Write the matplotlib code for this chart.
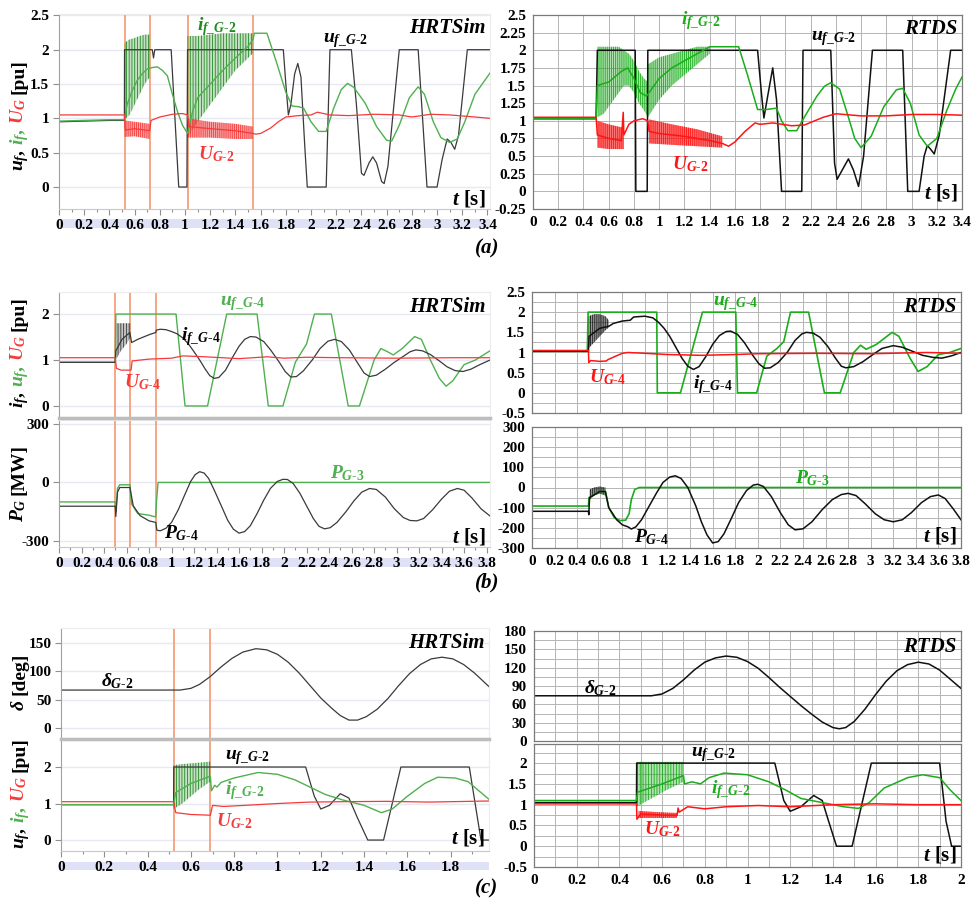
import matplotlib
matplotlib.use('Agg')
import matplotlib.pyplot as plt
from matplotlib.patches import Rectangle
from matplotlib.lines import Line2D
from matplotlib.ticker import MultipleLocator, FuncFormatter
from matplotlib.colors import to_rgba

# ---------------- data ----------------
# (a) HRTSim
a_h_uf_t = [0, 0.2, 0.4, 0.519, 0.52, 0.74, 0.75, 0.76, 0.89, 0.95, 1.005, 1.015, 1.02, 1.78, 1.80, 1.82, 1.84, 1.87, 1.895, 1.92, 1.95, 1.97,
            2.12, 2.15, 2.32, 2.36, 2.40, 2.42, 2.46, 2.49, 2.52, 2.56, 2.58, 2.61, 2.70, 2.85, 2.92, 3.0, 3.04, 3.08, 3.11, 3.14, 3.17, 3.24, 3.42]
a_h_uf = [0.95, 0.96, 0.97, 0.97, 2.0, 2.0, 1.88, 2.0, 2.0, 0.0, 0.0, 0.0, 2.0, 2.0, 1.5, 1.05, 1.2, 1.65, 1.8, 1.6, 0.6, 0.0,
          0.0, 2.0, 2.0, 1.2, 0.2, 0.17, 0.35, 0.44, 0.35, 0.08, 0.05, 0.3, 2.0, 2.0, 0.0, 0.0, 0.4, 0.7, 0.65, 0.55, 0.75, 2.0, 2.0]
a_h_if_t = [0, 0.2, 0.4, 0.52, 0.54, 0.58, 0.62, 0.66, 0.70, 0.74, 0.78, 0.82, 0.86, 0.9, 0.94, 0.98, 1.02, 1.06, 1.1, 1.2, 1.3, 1.4, 1.5,
            1.54, 1.55, 1.65, 1.72, 1.8, 1.85, 1.9, 1.94, 2.0, 2.06, 2.12, 2.18, 2.24, 2.29, 2.34, 2.43, 2.52, 2.6, 2.64, 2.7, 2.78, 2.85,
            2.9, 2.97, 3.03, 3.1, 3.16, 3.22, 3.3, 3.42]
a_h_if = [0.96, 0.97, 0.98, 0.98, 1.2, 1.4, 1.55, 1.65, 1.72, 1.74, 1.75, 1.7, 1.62, 1.35, 1.1, 0.9, 0.78, 1.1, 1.3, 1.5, 1.7, 1.88, 2.05,
          2.15, 2.24, 2.24, 1.85, 1.38, 1.18, 1.17, 1.15, 0.95, 0.81, 0.81, 1.15, 1.42, 1.51, 1.45, 1.22, 0.88, 0.68, 0.67, 0.9, 1.3, 1.46,
          1.35, 0.95, 0.72, 0.65, 0.7, 0.95, 1.35, 1.66]
a_h_if_band1 = ([0.52, 0.56, 0.6, 0.64, 0.68, 0.72], [0.98, 1.05, 1.2, 1.35, 1.5, 1.6], [2.1, 2.15, 2.17, 2.2, 2.22, 2.22])
a_h_if_band2 = ([1.02, 1.1, 1.2, 1.3, 1.4, 1.54], [0.72, 0.95, 1.2, 1.45, 1.7, 1.95], [2.2, 2.2, 2.22, 2.24, 2.24, 2.24])
a_h_ug_t = [0, 0.52, 0.525, 0.6, 0.72, 0.73, 0.8, 0.9, 0.98, 1.02, 1.03, 1.2, 1.4, 1.54, 1.56, 1.6, 1.68, 1.74, 1.8, 1.9, 2.0, 2.05,
            2.15, 2.3, 2.5, 2.7, 2.8, 2.95, 3.1, 3.3, 3.42]
a_h_ug = [1.05, 1.05, 0.83, 0.85, 0.82, 0.97, 1.02, 1.06, 1.07, 1.05, 0.88, 0.85, 0.82, 0.78, 0.77, 0.78, 0.86, 0.95, 1.02, 1.04, 1.05, 1.09,
          1.05, 1.04, 1.06, 1.05, 1.02, 1.06, 1.05, 1.02, 1.0]
a_h_ug_band1 = ([0.52, 0.6, 0.72], [0.73, 0.74, 0.70], [0.97, 0.95, 0.92])
a_h_ug_band2 = ([1.02, 1.2, 1.4, 1.54], [0.72, 0.72, 0.70, 0.70], [1.0, 0.95, 0.92, 0.88])
a_h_events = [0.52, 0.72, 1.02, 1.54]

# (a) RTDS
a_r_uf_t = [0, 0.5, 0.51, 0.81, 0.815, 0.905, 0.91, 1.78, 1.81, 1.83, 1.86, 1.9, 1.93, 1.97, 2.13, 2.14, 2.36, 2.39, 2.41, 2.45, 2.5,
            2.54, 2.58, 2.62, 2.69, 2.93, 2.97, 3.06, 3.1, 3.125, 3.15, 3.18, 3.22, 3.31, 3.4]
a_r_uf = [1.03, 1.03, 2.0, 2.0, 0.0, 0.0, 2.0, 2.0, 1.4, 1.04, 1.35, 1.75, 1.3, 0.0, 0.0, 2.0, 2.0, 0.4, 0.17, 0.3, 0.46,
          0.3, 0.07, 0.5, 2.0, 2.0, 0.0, 0.0, 0.5, 0.65, 0.6, 0.53, 0.8, 2.0, 2.0]
a_r_if_t = [0, 0.5, 0.51, 0.6, 0.7, 0.75, 0.8, 0.85, 0.9, 0.92, 1.0, 1.1, 1.2, 1.3, 1.4, 1.63, 1.7, 1.78, 1.85, 1.93, 1.97, 2.02, 2.09,
            2.15, 2.25, 2.31, 2.36, 2.43, 2.5, 2.55, 2.6, 2.68, 2.78, 2.88, 2.93, 2.99, 3.06, 3.125, 3.2, 3.28, 3.35, 3.4]
a_r_if = [1.03, 1.03, 1.5, 1.55, 1.7, 1.75, 1.6, 1.4, 1.35, 1.4, 1.6, 1.75, 1.85, 1.95, 2.05, 2.05, 1.65, 1.16, 1.16, 1.18, 1.0, 0.86, 0.86,
          1.05, 1.35, 1.49, 1.54, 1.45, 1.05, 0.75, 0.62, 0.78, 1.2, 1.44, 1.46, 1.25, 0.8, 0.64, 0.75, 1.15, 1.45, 1.62]
a_r_if_band1 = ([0.51, 0.56, 0.62, 0.68, 0.72, 0.76, 0.8, 0.84, 0.88, 0.91],
                [1.05, 1.1, 1.25, 1.4, 1.5, 1.5, 1.4, 1.25, 1.15, 1.05],
                [2.05, 2.05, 2.05, 2.05, 2.0, 1.95, 1.85, 1.7, 1.6, 1.55])
a_r_if_band2 = ([0.91, 1.0, 1.1, 1.2, 1.3, 1.4], [1.05, 1.3, 1.5, 1.65, 1.8, 1.95], [1.8, 1.9, 1.95, 2.0, 2.05, 2.05])
a_r_ug_t = [0, 0.5, 0.51, 0.6, 0.7, 0.715, 0.72, 0.76, 0.8, 0.87, 0.91, 0.92, 1.0, 1.2, 1.4, 1.5, 1.55, 1.6, 1.68, 1.76, 1.8, 1.9,
            2.05, 2.15, 2.3, 2.4, 2.6, 2.8, 3.0, 3.2, 3.4]
a_r_ug = [1.05, 1.05, 0.8, 0.75, 0.72, 1.12, 0.8, 0.95, 1.0, 1.03, 1.0, 0.85, 0.82, 0.78, 0.72, 0.68, 0.64, 0.7, 0.85, 0.97, 0.95, 0.97,
          0.93, 0.94, 1.05, 1.1, 1.07, 1.07, 1.09, 1.09, 1.08]
a_r_ug_band1 = ([0.51, 0.6, 0.72], [0.62, 0.6, 0.6], [1.0, 0.95, 0.9])
a_r_ug_band2 = ([0.92, 1.1, 1.3, 1.5], [0.68, 0.66, 0.64, 0.62], [1.02, 0.95, 0.88, 0.78])

# (b) HRTSim
b_h_uf_t = [0, 0.5, 0.505, 1.04, 1.12, 1.32, 1.49, 1.76, 1.86, 1.99, 2.1, 2.2, 2.27, 2.42, 2.57, 2.67, 2.8, 2.86, 2.92, 2.97, 3.05,
            3.16, 3.22, 3.3, 3.38, 3.44, 3.5, 3.6, 3.7, 3.83]
b_h_uf = [0.95, 0.95, 2.0, 2.0, 0.0, 0.0, 2.0, 2.0, 0.0, 0.0, 0.95, 1.35, 2.0, 2.0, 0.0, 0.0, 1.0, 1.25, 1.18, 1.11, 1.25,
          1.51, 1.45, 1.0, 0.6, 0.43, 0.55, 0.9, 1.0, 1.2]
b_h_if_t = [0, 0.5, 0.505, 0.56, 0.63, 0.645, 0.7, 0.8, 0.86, 0.865, 0.9, 0.95, 1.0, 1.05, 1.1, 1.15, 1.2, 1.25, 1.3, 1.34, 1.38,
            1.42, 1.48, 1.54, 1.6, 1.65, 1.7, 1.75, 1.82, 1.88, 1.95, 2.01, 2.06, 2.11, 2.17, 2.25, 2.32, 2.39, 2.45, 2.51, 2.58,
            2.65, 2.71, 2.76, 2.82, 2.9, 2.98, 3.06, 3.12, 3.17, 3.23, 3.3, 3.38, 3.45, 3.52, 3.59, 3.66, 3.74, 3.83]
b_h_if = [0.95, 0.95, 1.2, 1.45, 1.6, 1.38, 1.45, 1.55, 1.6, 1.65, 1.67, 1.66, 1.62, 1.57, 1.48, 1.35, 1.18, 1.0, 0.8, 0.66, 0.6,
          0.62, 0.78, 1.05, 1.3, 1.45, 1.51, 1.5, 1.4, 1.22, 0.98, 0.75, 0.63, 0.64, 0.76, 1.0, 1.25, 1.41, 1.45, 1.4, 1.22,
          0.95, 0.72, 0.64, 0.67, 0.8, 0.95, 1.08, 1.18, 1.22, 1.2, 1.12, 0.98, 0.85, 0.77, 0.75, 0.8, 0.9, 1.0]
b_h_if_band = ([0.505, 0.55, 0.6, 0.635], [1.0, 1.2, 1.35, 1.5], [1.8, 1.8, 1.8, 1.8])
b_h_ug_t = [0, 0.5, 0.51, 0.55, 0.64, 0.65, 0.8, 1.0, 1.1, 1.3, 1.6, 1.85, 2.0, 2.2, 2.5, 3.0, 3.5, 3.83]
b_h_ug = [1.05, 1.05, 0.82, 0.78, 0.78, 0.98, 1.02, 1.04, 1.09, 1.07, 1.03, 1.07, 1.04, 1.06, 1.05, 1.04, 1.05, 1.05]
b_h_p3_t = [0, 0.5, 0.505, 0.52, 0.54, 0.63, 0.645, 0.7, 0.8, 0.86, 0.865, 0.88, 3.83]
b_h_p3 = [-100, -100, -150, -30, -12, -12, -110, -160, -168, -177, -110, 0, 0]
b_h_p4_t = [0, 0.5, 0.505, 0.52, 0.54, 0.63, 0.66, 0.72, 0.8, 0.86, 0.87, 0.9, 0.95, 1.0, 1.06, 1.12, 1.17, 1.21, 1.25, 1.29, 1.33,
            1.38, 1.45, 1.5, 1.55, 1.6, 1.65, 1.7, 1.76, 1.82, 1.88, 1.94, 1.99, 2.03, 2.08, 2.14, 2.2, 2.26, 2.31, 2.36, 2.41,
            2.47, 2.55, 2.62, 2.69, 2.76, 2.82, 2.9, 2.98, 3.06, 3.12, 3.18, 3.24, 3.32, 3.4, 3.47, 3.54, 3.6, 3.67, 3.75, 3.83]
b_h_p4 = [-122, -122, -175, -50, -26, -26, -120, -170, -197, -205, -245, -248, -235, -205, -140, -60, 5, 40, 55, 48, 20,
          -40, -130, -195, -240, -260, -252, -222, -160, -90, -30, 5, 16, 15, -5, -55, -120, -185, -225, -238, -232,
          -205, -150, -95, -50, -31, -36, -75, -135, -180, -195, -197, -185, -140, -85, -45, -31, -40, -80, -135, -172]
b_h_events = [0.5, 0.63, 0.86]

# (b) RTDS
b_r_uf_t = [0, 0.49, 0.497, 1.105, 1.11, 1.315, 1.51, 1.805, 1.82, 1.99, 2.08, 2.17, 2.23, 2.29, 2.45, 2.59, 2.73, 2.85, 2.91, 2.96,
            3.05, 3.19, 3.25, 3.35, 3.42, 3.5, 3.6, 3.7, 3.8]
b_r_uf = [1.03, 1.03, 2.0, 2.0, 0.0, 0.0, 2.0, 2.0, 0.0, 0.0, 0.91, 1.1, 1.27, 2.0, 2.0, 0.0, 0.0, 1.0, 1.18, 1.08,
          1.2, 1.5, 1.4, 0.85, 0.53, 0.65, 0.95, 1.0, 1.1]
b_r_if_t = [0, 0.5, 0.505, 0.6, 0.68, 0.72, 0.8, 0.87, 0.9, 1.0, 1.07, 1.12, 1.17, 1.22, 1.28, 1.33, 1.38, 1.43, 1.48, 1.54, 1.6,
            1.66, 1.72, 1.76, 1.82, 1.88, 1.95, 2.01, 2.06, 2.11, 2.18, 2.26, 2.33, 2.39, 2.43, 2.49, 2.55, 2.62, 2.69, 2.74,
            2.78, 2.85, 2.93, 3.02, 3.1, 3.2, 3.28, 3.37, 3.46, 3.55, 3.63, 3.72, 3.8]
b_r_if = [1.03, 1.03, 1.4, 1.6, 1.65, 1.72, 1.78, 1.8, 1.88, 1.9, 1.86, 1.75, 1.6, 1.4, 1.1, 0.85, 0.66, 0.58, 0.65, 0.9, 1.2,
          1.42, 1.52, 1.53, 1.45, 1.25, 0.95, 0.72, 0.61, 0.62, 0.75, 1.0, 1.3, 1.46, 1.5, 1.48, 1.38, 1.15, 0.85, 0.66,
          0.62, 0.65, 0.77, 0.95, 1.1, 1.17, 1.13, 1.03, 0.93, 0.88, 0.86, 0.92, 1.0]
b_r_if_band = ([0.5, 0.55, 0.6, 0.65, 0.68], [1.1, 1.25, 1.4, 1.55, 1.62], [1.9, 1.95, 1.95, 1.9, 1.8])
b_r_ug_t = [0, 0.5, 0.503, 0.52, 0.6, 0.66, 0.67, 0.75, 0.8, 0.85, 1.0, 1.2, 1.5, 1.8, 2.0, 2.5, 3.0, 3.5, 3.8]
b_r_ug = [1.05, 1.05, 0.75, 0.8, 0.78, 0.79, 0.82, 0.92, 0.98, 1.0, 0.98, 0.95, 0.93, 0.95, 0.97, 0.98, 0.97, 1.0, 0.98]
b_r_p3_t = [0, 0.5, 0.505, 0.6, 0.65, 0.68, 0.73, 0.78, 0.83, 0.86, 0.88, 0.91, 0.95, 3.8]
b_r_p3 = [-92, -92, -50, -20, -20, -100, -150, -164, -162, -130, -60, -10, 0, 0]
b_r_p4_t = [0, 0.5, 0.503, 0.51, 0.6, 0.65, 0.68, 0.75, 0.8, 0.85, 0.88, 0.92, 0.97, 1.03, 1.1, 1.16, 1.22, 1.27, 1.32, 1.38, 1.45,
            1.5, 1.55, 1.6, 1.65, 1.7, 1.76, 1.83, 1.9, 1.96, 2.0, 2.05, 2.12, 2.2, 2.27, 2.33, 2.4, 2.48, 2.57, 2.66, 2.74,
            2.8, 2.87, 2.95, 3.04, 3.12, 3.2, 3.28, 3.36, 3.45, 3.53, 3.6, 3.66, 3.73, 3.8]
b_r_p4 = [-118, -118, -135, -50, -20, -20, -100, -160, -185, -195, -206, -195, -160, -100, -30, 25, 52, 58, 45, 0, -90,
          -170, -235, -275, -268, -230, -160, -75, -15, 12, 16, 5, -45, -125, -185, -210, -205, -170, -110, -60, -35,
          -29, -40, -80, -130, -160, -170, -160, -125, -75, -45, -37, -55, -105, -160]
b_r_p4_band = ([0.51, 0.55, 0.6, 0.65], [-60, -40, -30, -40], [-10, 0, 5, 0])

# (c) HRTSim
c_h_d_t = [0, 0.55, 0.6, 0.64, 0.69, 0.74, 0.79, 0.84, 0.9, 0.95, 1.0, 1.05, 1.1, 1.15, 1.2, 1.25, 1.29, 1.33, 1.37, 1.41, 1.46,
           1.51, 1.56, 1.61, 1.66, 1.71, 1.76, 1.81, 1.86, 1.91, 1.98]
c_h_d = [67, 67, 70, 77, 91, 108, 123, 134, 140, 138, 130, 116, 97, 75, 53, 35, 22, 14, 14, 20, 33,
         52, 75, 96, 112, 122, 125, 122, 112, 97, 72]
c_h_uf_t = [0, 0.52, 0.521, 1.13, 1.17, 1.2, 1.24, 1.29, 1.33, 1.37, 1.417, 1.49, 1.57, 1.886, 1.94, 1.98]
c_h_uf = [0.97, 0.97, 2.0, 2.0, 1.2, 0.85, 0.95, 1.27, 1.15, 0.6, 0.0, 0.0, 2.0, 2.0, 0.0, 0.0]
c_h_if_t = [0, 0.52, 0.53, 0.6, 0.69, 0.695, 0.71, 0.72, 0.74, 0.8, 0.91, 1.0, 1.08, 1.15, 1.22, 1.3, 1.4, 1.48, 1.53, 1.6, 1.68, 1.74,
            1.82, 1.88, 1.94, 1.98]
c_h_if = [0.97, 0.97, 1.3, 1.55, 1.75, 1.35, 1.5, 1.45, 1.58, 1.7, 1.85, 1.8, 1.65, 1.45, 1.25, 1.1, 0.95, 0.75, 0.85, 1.2, 1.55, 1.72,
          1.7, 1.6, 1.3, 1.1]
c_h_if_band = ([0.52, 0.56, 0.6, 0.64, 0.69], [0.85, 1.0, 1.2, 1.4, 1.6], [2.05, 2.08, 2.1, 2.12, 2.15])
c_h_ug_t = [0, 0.52, 0.53, 0.6, 0.69, 0.7, 0.75, 0.85, 1.0, 1.15, 1.3, 1.5, 1.7, 1.98]
c_h_ug = [1.05, 1.05, 0.75, 0.7, 0.68, 0.95, 0.92, 0.95, 1.0, 1.04, 1.05, 1.06, 1.04, 1.07]
c_h_events = [0.52, 0.69]

# (c) RTDS
c_r_d_t = [0, 0.55, 0.6, 0.65, 0.7, 0.75, 0.8, 0.85, 0.9, 0.95, 1.0, 1.05, 1.1, 1.15, 1.2, 1.25, 1.3, 1.35, 1.4, 1.43, 1.46, 1.5,
           1.55, 1.6, 1.65, 1.7, 1.75, 1.8, 1.85, 1.9, 1.95, 2.0]
c_r_d = [74, 74, 77, 86, 100, 116, 129, 136, 139, 137, 130, 119, 104, 88, 73, 58, 44, 31, 22, 20, 22, 32,
         52, 76, 98, 115, 125, 129, 126, 116, 101, 86]
c_r_uf_t = [0, 0.48, 0.481, 1.128, 1.17, 1.2, 1.25, 1.31, 1.35, 1.38, 1.417, 1.49, 1.58, 1.9, 1.93, 1.956, 2.0]
c_r_uf = [1.05, 1.05, 2.0, 2.0, 1.1, 0.84, 0.95, 1.22, 1.1, 0.6, 0.0, 0.0, 2.0, 2.0, 0.6, 0.0, 0.0]
c_r_if_t = [0, 0.48, 0.485, 0.6, 0.7, 0.705, 0.74, 0.78, 0.82, 0.89, 1.0, 1.1, 1.18, 1.25, 1.35, 1.45, 1.52, 1.57, 1.64, 1.75, 1.82,
            1.9, 1.95, 2.0]
c_r_if = [1.1, 1.1, 1.3, 1.5, 1.7, 1.5, 1.55, 1.5, 1.65, 1.76, 1.72, 1.55, 1.35, 1.15, 1.05, 0.95, 0.91, 1.05, 1.4, 1.65, 1.72,
          1.65, 1.35, 1.1]
c_r_if_band = ([0.48, 0.55, 0.62, 0.7], [0.95, 1.15, 1.35, 1.55], [2.03, 2.03, 2.03, 2.03])
c_r_ug_t = [0, 0.48, 0.482, 0.5, 0.6, 0.67, 0.675, 0.68, 0.72, 0.8, 0.9, 1.05, 1.2, 1.4, 1.6, 1.8, 2.0]
c_r_ug = [1.02, 1.02, 0.65, 0.78, 0.75, 0.74, 0.92, 0.82, 0.95, 0.9, 0.95, 0.98, 0.95, 1.0, 1.02, 1.0, 1.0]
c_r_ug_band = ([0.49, 0.58, 0.67], [0.68, 0.68, 0.68], [0.85, 0.82, 0.8])

# ---------------- styling ----------------
W, H = 971, 908
plt.rcParams.update({
    'font.family': ['Liberation Serif', 'DejaVu Serif'],
    'font.weight': 'bold',
    'axes.unicode_minus': False,
    'mathtext.fontset': 'custom',
    'mathtext.rm': 'Liberation Serif:bold',
    'mathtext.it': 'Liberation Serif:italic:bold',
    'mathtext.bf': 'Liberation Serif:bold',
    'hatch.linewidth': 0.6,
})

H_GREEN, H_DKGREEN, H_RED, H_BLACK = '#4fb04f', '#1f8a1f', '#f43a3a', '#3a3a3a'
R_GREEN, R_RED, R_BLACK = '#1aad1a', '#ff1414', '#111111'
ORANGE = '#f5a07a'

fig = plt.figure(figsize=(W / 100, H / 100), dpi=100)
fmt = FuncFormatter(lambda v, p: '%g' % round(v, 3))


def px_ax(x0, y0, x1, y1):
    return fig.add_axes([x0 / W, 1 - y1 / H, (x1 - x0) / W, (y1 - y0) / H])


def hrt_style(ax, xlim, ylim, yticks, xlabels=True):
    ax.set_xlim(*xlim)
    ax.set_ylim(*ylim)
    for s in ['top', 'right']:
        ax.spines[s].set_color('#ececec')
    ax.spines['left'].set_color('#a0a0a0')
    ax.spines['bottom'].set_color('#c8c8c8')
    ax.set_yticks(yticks)
    ax.yaxis.set_major_formatter(fmt)
    ax.yaxis.grid(True, color='#e9e9f3', lw=1.0)
    ax.set_axisbelow(True)
    ax.xaxis.set_major_locator(MultipleLocator(0.2))
    ax.xaxis.set_minor_locator(MultipleLocator(0.1))
    ax.xaxis.set_major_formatter(fmt)
    ax.tick_params(axis='both', which='both', colors='#909090', labelcolor='black', labelsize=11, width=0.8)
    ax.tick_params(axis='y', length=4, pad=3)
    ax.tick_params(axis='x', which='major', length=4, pad=3)
    ax.tick_params(axis='x', which='minor', length=2)
    if not xlabels:
        ax.tick_params(axis='x', which='both', bottom=False, labelbottom=False)


def rtds_style(ax, xlim, ylim, ystep, yminor=None, xgrid=0.2):
    ax.set_xlim(*xlim)
    ax.set_ylim(*ylim)
    for s in ax.spines.values():
        s.set_color('#7a7a7a')
        s.set_linewidth(0.9)
    ax.yaxis.set_major_locator(MultipleLocator(ystep))
    ax.yaxis.set_major_formatter(fmt)
    if yminor:
        ax.yaxis.set_minor_locator(MultipleLocator(yminor))
    ax.xaxis.set_major_locator(MultipleLocator(0.2))
    ax.xaxis.set_minor_locator(MultipleLocator(xgrid))
    ax.xaxis.set_major_formatter(fmt)
    ax.grid(True, which='both', color='#b4b4b4', lw=0.7)
    ax.set_axisbelow(True)
    ax.tick_params(axis='both', which='both', length=0, labelsize=11, pad=5)


def band(ax, b, color, alpha, hatch='||||||'):
    # fast switching (chatter) region drawn as a hatched envelope
    ax.fill_between(b[0], b[1], b[2], facecolor=to_rgba(color, alpha), edgecolor=color, hatch=hatch, lw=0)


def lab(ax, x, y, s, color, size=14, ha='center'):
    ax.text(x, y, s, color=color, fontsize=size, ha=ha, va='center')


def corner(ax, s, y):
    ax.text(0.99, y, s, transform=ax.transAxes, ha='right', va='center', fontsize=15, fontstyle='italic', fontweight='bold')


def tlabel(ax, y):
    ax.text(0.99, y, r'$t$ [s]', transform=ax.transAxes, ha='right', va='center', fontsize=15)


def stack_label(x_px, yc_px, pieces, size=14, gap=4):
    r = fig.canvas.get_renderer()
    texts = [fig.text(x_px / W, 0, s, color=c, fontsize=size, rotation=90, rotation_mode='anchor',
                      ha='left', va='baseline') for s, c in pieces]
    hs = [t.get_window_extent(r).height for t in texts]
    y = yc_px + (sum(hs) + gap * (len(hs) - 1)) / 2.0
    for t, h in zip(texts, hs):
        t.set_position((x_px / W, 1 - y / H))
        y -= h + gap


def hband(x0, x1, y0, y1):
    fig.add_artist(Rectangle((x0 / W, 1 - y1 / H), (x1 - x0) / W, (y1 - y0) / H, transform=fig.transFigure,
                             color='#dfe1f6', lw=0, zorder=-5))


def sep(x0, x1, y):
    fig.add_artist(Line2D([x0 / W, x1 / W], [1 - y / H, 1 - y / H], transform=fig.transFigure, color='#bdbdbd', lw=2.5))


UF2, IF2, UG2 = r'$u_{f\_G\text{-}2}$', r'$i_{f\_G\text{-}2}$', r'$U_{G\text{-}2}$'
UF4, IF4, UG4 = r'$u_{f\_G\text{-}4}$', r'$i_{f\_G\text{-}4}$', r'$U_{G\text{-}4}$'
P3, P4, D2 = r'$P_{G\text{-}3}$', r'$P_{G\text{-}4}$', r'$\delta_{G\text{-}2}$'
DENSE = '||||||||'

# ---------------- (a) ----------------
ax = px_ax(59, 14, 490, 209)
hrt_style(ax, (0, 3.42), (-0.32, 2.52), [0, 0.5, 1, 1.5, 2, 2.5])
for t in a_h_events:
    ax.axvline(t, color=ORANGE, lw=1.3, zorder=1)
band(ax, a_h_if_band1, H_DKGREEN, 0.25)
band(ax, a_h_if_band2, H_DKGREEN, 0.25)
band(ax, a_h_ug_band1, H_RED, 0.45, DENSE)
band(ax, a_h_ug_band2, H_RED, 0.45, DENSE)
ax.plot(a_h_uf_t, a_h_uf, color=H_BLACK, lw=0.9)
ax.plot(a_h_if_t, a_h_if, color=H_GREEN, lw=1.0)
ax.plot(a_h_ug_t, a_h_ug, color=H_RED, lw=0.9)
lab(ax, 1.25, 2.34, IF2, H_DKGREEN)
lab(ax, 2.27, 2.14, UF2, 'black')
lab(ax, 1.25, 0.48, UG2, H_RED)
corner(ax, 'HRTSim', 0.93)
tlabel(ax, 0.05)
hband(59, 490, 219, 228)
stack_label(23, 115, [(r'$u_f$,', 'black'), (r'$i_f$,', H_GREEN), (r'$U_G$', H_RED), ('[pu]', 'black')])

ax = px_ax(533, 15, 962, 209)
rtds_style(ax, (0, 3.4), (-0.25, 2.5), 0.25)
band(ax, a_r_if_band1, R_GREEN, 0.35, DENSE)
band(ax, a_r_if_band2, R_GREEN, 0.35, DENSE)
band(ax, a_r_ug_band1, R_RED, 0.6, DENSE)
band(ax, a_r_ug_band2, R_RED, 0.6, DENSE)
ax.plot(a_r_uf_t, a_r_uf, color=R_BLACK, lw=1.1)
ax.plot(a_r_if_t, a_r_if, color=R_GREEN, lw=1.1)
ax.plot(a_r_ug_t, a_r_ug, color=R_RED, lw=1.1)
lab(ax, 1.33, 2.42, IF2, R_GREEN)
lab(ax, 2.38, 2.16, UF2, 'black')
lab(ax, 1.25, 0.38, UG2, R_RED)
corner(ax, 'RTDS', 0.93)
tlabel(ax, 0.08)

fig.text(487 / W, 1 - 248 / H, '(a)', ha='center', va='center', fontsize=15, fontstyle='italic', fontweight='bold')

# ---------------- (b) ----------------
ax = px_ax(59, 292, 490, 417)
hrt_style(ax, (0, 3.83), (-0.24, 2.48), [0, 1, 2], xlabels=False)
for t in b_h_events:
    ax.axvline(t, color=ORANGE, lw=1.3, zorder=1)
band(ax, b_h_if_band, H_BLACK, 0.3)
ax.plot(b_h_uf_t, b_h_uf, color=H_GREEN, lw=1.0)
ax.plot(b_h_if_t, b_h_if, color=H_BLACK, lw=0.9)
ax.plot(b_h_ug_t, b_h_ug, color=H_RED, lw=0.9)
lab(ax, 1.63, 2.22, UF4, H_GREEN)
lab(ax, 1.26, 1.5, IF4, 'black')
lab(ax, 0.74, 0.52, UG4, H_RED)
corner(ax, 'HRTSim', 0.88)
stack_label(23, 352, [(r'$i_f$,', 'black'), (r'$u_f$,', H_GREEN), (r'$U_G$', H_RED), ('[pu]', 'black')])

ax = px_ax(59, 420, 490, 547)
hrt_style(ax, (0, 3.83), (-331, 320), [-300, 0, 300])
for t in b_h_events:
    ax.axvline(t, color=ORANGE, lw=1.3, zorder=1)
ax.plot(b_h_p3_t, b_h_p3, color=H_GREEN, lw=1.0)
ax.plot(b_h_p4_t, b_h_p4, color=H_BLACK, lw=0.9)
lab(ax, 2.56, 45, P3, H_GREEN)
lab(ax, 1.09, -262, P4, 'black')
tlabel(ax, 0.08)
sep(59, 490, 418)
hband(59, 490, 558, 567)
stack_label(23, 483, [(r'$P_G$', 'black'), ('[MW]', 'black')])

ax = px_ax(532, 292, 961, 413)
rtds_style(ax, (0, 3.8), (-0.5, 2.5), 0.5, 0.25)
ax.tick_params(axis='x', labelbottom=False)
band(ax, b_r_if_band, R_BLACK, 0.4, DENSE)
ax.plot(b_r_uf_t, b_r_uf, color=R_GREEN, lw=1.2)
ax.plot(b_r_if_t, b_r_if, color=R_BLACK, lw=1.1)
ax.plot(b_r_ug_t, b_r_ug, color=R_RED, lw=1.1)
lab(ax, 1.8, 2.22, UF4, R_GREEN)
lab(ax, 1.6, 0.2, IF4, 'black')
lab(ax, 0.67, 0.4, UG4, R_RED)
corner(ax, 'RTDS', 0.88)

ax = px_ax(532, 427, 961, 548)
rtds_style(ax, (0, 3.8), (-300, 300), 100, 50)
band(ax, b_r_p4_band, R_BLACK, 0.4, DENSE)
ax.plot(b_r_p3_t, b_r_p3, color=R_GREEN, lw=1.2)
ax.plot(b_r_p4_t, b_r_p4, color=R_BLACK, lw=1.1)
lab(ax, 2.48, 45, P3, R_GREEN)
lab(ax, 1.06, -248, P4, 'black')
tlabel(ax, 0.1)

fig.text(487 / W, 1 - 582 / H, '(b)', ha='center', va='center', fontsize=15, fontstyle='italic', fontweight='bold')

# ---------------- (c) ----------------
ax = px_ax(61, 628, 489, 738)
hrt_style(ax, (0, 1.977), (-17.6, 176.5), [0, 50, 100, 150], xlabels=False)
for t in c_h_events:
    ax.axvline(t, color=ORANGE, lw=1.3, zorder=1)
ax.plot(c_h_d_t, c_h_d, color=H_BLACK, lw=0.9)
lab(ax, 0.26, 82, D2, 'black')
corner(ax, 'HRTSim', 0.86)
stack_label(24, 682, [(r'$\delta$', 'black'), ('[deg]', 'black')])

ax = px_ax(61, 740, 489, 851)
hrt_style(ax, (0, 1.977), (-0.3, 2.74), [0, 1, 2])
for t in c_h_events:
    ax.axvline(t, color=ORANGE, lw=1.3, zorder=1)
band(ax, c_h_if_band, H_DKGREEN, 0.25)
ax.plot(c_h_uf_t, c_h_uf, color=H_BLACK, lw=0.9)
ax.plot(c_h_if_t, c_h_if, color=H_GREEN, lw=1.0)
ax.plot(c_h_ug_t, c_h_ug, color=H_RED, lw=0.9)
lab(ax, 0.86, 2.27, UF2, 'black')
lab(ax, 0.85, 1.35, IF2, H_GREEN)
lab(ax, 0.8, 0.53, UG2, H_RED)
tlabel(ax, 0.12)
sep(61, 489, 739)
hband(61, 489, 862, 870)
stack_label(24, 793, [(r'$u_f$,', 'black'), (r'$i_f$,', H_GREEN), (r'$U_G$', H_RED), ('[pu]', 'black')])

ax = px_ax(534, 631, 961, 741)
rtds_style(ax, (0, 2.0), (0, 180), 30, 15, xgrid=0.1)
ax.tick_params(axis='x', labelbottom=False)
ax.plot(c_r_d_t, c_r_d, color=R_BLACK, lw=1.1)
lab(ax, 0.31, 86, D2, 'black')
corner(ax, 'RTDS', 0.85)

ax = px_ax(534, 744, 961, 867)
rtds_style(ax, (0, 2.0), (-0.5, 2.46), 0.5, 0.25, xgrid=0.1)
band(ax, c_r_if_band, R_GREEN, 0.35)
band(ax, c_r_ug_band, R_RED, 0.6, DENSE)
ax.plot(c_r_uf_t, c_r_uf, color=R_BLACK, lw=1.1)
ax.plot(c_r_if_t, c_r_if, color=R_GREEN, lw=1.1)
ax.plot(c_r_ug_t, c_r_ug, color=R_RED, lw=1.1)
lab(ax, 0.84, 2.2, UF2, 'black')
lab(ax, 0.92, 1.36, IF2, R_GREEN)
lab(ax, 0.6, 0.4, UG2, R_RED)
tlabel(ax, 0.1)

fig.text(487 / W, 1 - 888 / H, '(c)', ha='center', va='center', fontsize=15, fontstyle='italic', fontweight='bold')

fig.savefig('out.png', dpi=100)
